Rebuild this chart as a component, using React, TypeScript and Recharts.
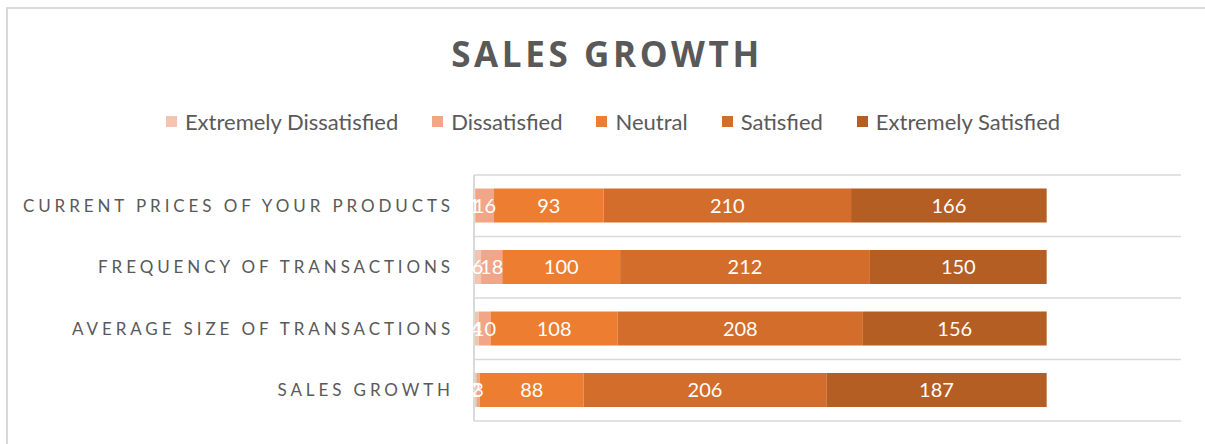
import { BarChart, Bar, XAxis, YAxis, CartesianGrid, LabelList } from 'recharts'

const categories = [
  'CURRENT PRICES OF YOUR PRODUCTS',
  'FREQUENCY OF TRANSACTIONS',
  'AVERAGE SIZE OF TRANSACTIONS',
  'SALES GROWTH',
]
const extremelyDissatisfied = [1, 6, 4, 2]
const dissatisfied = [16, 18, 10, 3]
const neutral = [93, 100, 108, 88]
const satisfied = [210, 212, 208, 206]
const extremelySatisfied = [166, 150, 156, 187]

const series = [
  { key: 'ed', name: 'Extremely Dissatisfied', color: '#F5C4B0', values: extremelyDissatisfied },
  { key: 'd', name: 'Dissatisfied', color: '#F0A687', values: dissatisfied },
  { key: 'n', name: 'Neutral', color: '#ED7D31', values: neutral },
  { key: 's', name: 'Satisfied', color: '#D36D2B', values: satisfied },
  { key: 'es', name: 'Extremely Satisfied', color: '#B45E23', values: extremelySatisfied },
]

const data = categories.map((cat, i) => {
  const row: any = { category: cat }
  series.forEach(s => { row[s.key] = s.values[i] })
  return row
})

const TEXT = '#595959'

const CategoryTick = ({ x, y, payload }: any) => (
  <text
    x={x + 8}
    y={y}
    dy={6}
    textAnchor="end"
    fill={TEXT}
    fontSize={17}
    style={{ fontFamily: 'Lato', letterSpacing: '3.9px' }}
  >
    {payload.value}
  </text>
)

export default function App() {
  return (
    <div style={{ position: 'absolute', left: 0, top: 0, width: 1205, height: 444, overflow: 'hidden', background: '#fff' }}>
      {/* chart area border */}
      <div style={{ position: 'absolute', left: 6, top: 7, width: 1400, height: 600, border: '2px solid #d9d9d9' }} />

      <div
        style={{
          position: 'absolute', left: 0, top: 30, width: 1214, textAlign: 'center',
          fontFamily: 'Open Sans', fontWeight: 700, fontSize: 35, letterSpacing: '3.6px', color: TEXT,
        }}
      >
        SALES GROWTH
      </div>

      <div
        style={{
          position: 'absolute', left: 0, top: 108, width: 1226, display: 'flex', justifyContent: 'center',
          gap: 34, fontFamily: 'Lato', fontSize: 22, color: TEXT,
        }}
      >
        {series.map(s => (
          <div key={s.key} style={{ display: 'flex', alignItems: 'center' }}>
            <span style={{ display: 'inline-block', width: 11, height: 11, background: s.color, marginRight: 8 }} />
            <span>{s.name}</span>
          </div>
        ))}
      </div>

      <div style={{ position: 'absolute', left: 0, top: 0 }}>
        <BarChart
          width={1205}
          height={444}
          data={data}
          layout="vertical"
          margin={{ top: 175, right: 24, bottom: 23, left: 0 }}
          barCategoryGap="22%"
        >
          <CartesianGrid
            vertical={false}
            stroke="#d9d9d9"
            strokeWidth={1.5}
            horizontalCoordinatesGenerator={({ offset }: any) =>
              Array.from({ length: categories.length + 1 }, (_, i) => offset.top + (i * offset.height) / categories.length)
            }
          />
          <XAxis type="number" domain={[0, 600]} hide />
          <YAxis
            type="category"
            dataKey="category"
            width={474}
            axisLine={{ stroke: '#d9d9d9', strokeWidth: 2 }}
            tickLine={false}
            tickMargin={22}
            tick={<CategoryTick />}
            interval={0}
          />
          {series.map(s => (
            <Bar key={s.key} dataKey={s.key} name={s.name} stackId="a" fill={s.color} isAnimationActive={false}>
              <LabelList
                dataKey={s.key}
                position="center"
                fill="#ffffff"
                fontSize={20}
                style={{ fontFamily: 'Lato' }}
              />
            </Bar>
          ))}
        </BarChart>
      </div>
    </div>
  )
}
